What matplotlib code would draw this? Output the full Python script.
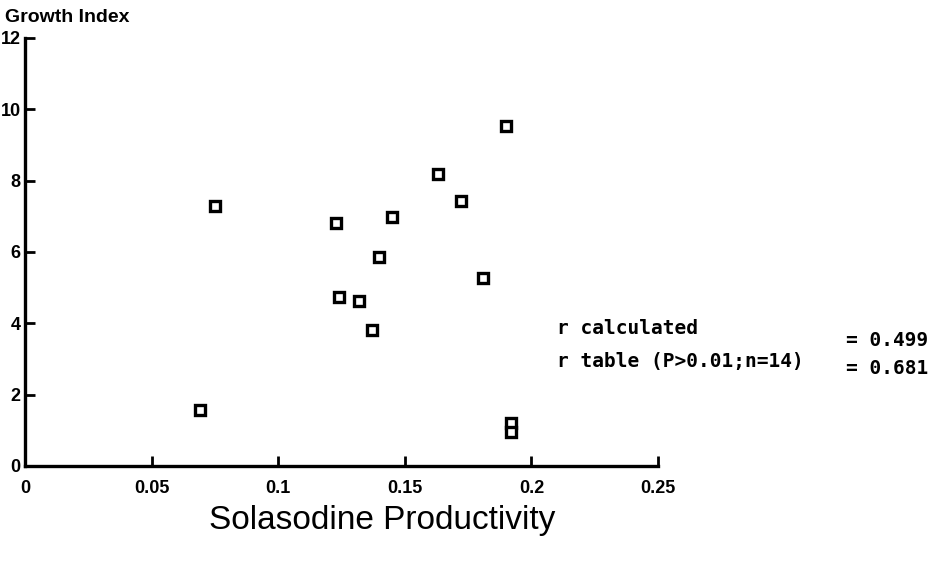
import matplotlib
matplotlib.use("Agg")
import matplotlib.pyplot as plt

# Data
productivity = [0.190, 0.163, 0.172, 0.075, 0.123, 0.145, 0.140,
                0.181, 0.124, 0.132, 0.137, 0.069, 0.192, 0.192]
growth_index = [9.53, 8.19, 7.43, 7.29, 6.81, 6.98, 5.86,
                5.27, 4.74, 4.63, 3.81, 1.57, 1.21, 0.95]
x_ticks = [0, 0.05, 0.1, 0.15, 0.2, 0.25]
x_tick_labels = ["0", "0.05", "0.1", "0.15", "0.2", "0.25"]
y_ticks = [0, 2, 4, 6, 8, 10, 12]
y_tick_labels = ["0", "2", "4", "6", "8", "10", "12"]
r_calculated = "0.499"
r_table = "0.681"

W, H = 933, 563
fig = plt.figure(figsize=(W / 100, H / 100), dpi=100)
fig.patch.set_facecolor("white")

def fx(px):
    return px / W

def fy(py):
    return 1 - py / H

left, right, top, bottom = 25, 658, 38, 466
ax = fig.add_axes([fx(left), fy(bottom), fx(right) - fx(left), fy(top) - fy(bottom)])

ax.plot(productivity, growth_index, linestyle="none", marker="s", markersize=7,
        markerfacecolor="white", markeredgecolor="black", markeredgewidth=2.4,
        clip_on=False, zorder=3)

ax.set_xlim(0, 0.25)
ax.set_ylim(0, 12)
for s in ["top", "right"]:
    ax.spines[s].set_visible(False)
for s in ["left", "bottom"]:
    ax.spines[s].set_linewidth(2.4)
    ax.spines[s].set_color("black")

lab_font = dict(family="Liberation Sans", weight="bold", size=13)
ax.set_xticks(x_ticks)
ax.set_xticklabels(x_tick_labels, **lab_font)
ax.set_yticks(y_ticks)
ax.set_yticklabels(y_tick_labels, **lab_font)
ax.tick_params(axis="both", direction="in", length=7, width=2)
ax.tick_params(axis="x", pad=10)
ax.tick_params(axis="y", pad=3)

fig.text(fx(5), fy(18), "Growth Index", ha="left", va="center",
         family="Liberation Sans", weight="bold", size=14)
fig.text(fx(382), fy(521), "Solasodine Productivity", ha="center", va="center",
         family="Liberation Sans", size=24)

mono = dict(family="DejaVu Sans Mono", weight="bold", size=14)
fig.text(fx(557), fy(328), "r calculated", ha="left", va="center", **mono)
fig.text(fx(928), fy(341), "= " + r_calculated, ha="right", va="center", **mono)
fig.text(fx(557), fy(362), "r table (P>0.01;n=14)", ha="left", va="center", **mono)
fig.text(fx(928), fy(368), "= " + r_table, ha="right", va="center", **mono)

fig.savefig("out.png", dpi=100, facecolor="white")
